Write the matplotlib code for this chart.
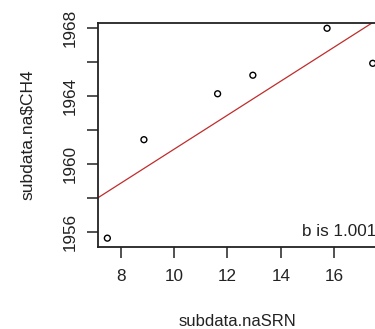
import matplotlib
matplotlib.use('Agg')
import matplotlib.pyplot as plt
import numpy as np

plt.rcParams['font.family'] = ['Liberation Sans', 'DejaVu Sans']

# readings from the reference
rn = [7.50, 8.87, 11.63, 12.95, 15.73, 17.44]
ch4 = [1955.66, 1961.45, 1964.15, 1965.24, 1968.00, 1965.94]
slope = 1.001
intercept = 1950.88
xticks = [8, 10, 12, 14, 16]
yticks = [1956, 1958, 1960, 1962, 1964, 1966, 1968]
ylabels = ['1956', '', '1960', '', '1964', '', '1968']

W, H = 375, 329
fig = plt.figure(figsize=(W / 100, H / 100), dpi=100)
# plot region runs past the right edge (cropped original)
left, right, top, bottom = 98, 381, 23, 247
ax = fig.add_axes([left / W, 1 - bottom / H, (right - left) / W, (bottom - top) / H])

ax.scatter(rn, ch4, s=18, facecolors='none', edgecolors='black', linewidths=1.0, zorder=3)

ax.set_xlim(7.15, 17.75)
ax.set_ylim(1955.14, 1968.31)
xs = np.array(ax.get_xlim())
ax.plot(xs, intercept + slope * xs, color='#c02c2c', linewidth=0.9, zorder=2)

ax.set_xticks(xticks)
ax.set_yticks(yticks)
ax.set_yticklabels(ylabels)
ax.tick_params(axis='both', direction='out', length=8, width=1.1, labelsize=12.3, colors='#222222')
ax.tick_params(axis='x', pad=8)
ax.tick_params(axis='y', pad=6.5, labelrotation=90)
for lab in ax.get_yticklabels():
    lab.set_va('center')

for s in ax.spines.values():
    s.set_linewidth(1.3)
    s.set_color('#222222')

fig.text(376 / W, 1 - 231 / H, 'b is 1.001', ha='right', va='center', fontsize=12.3, color='#222222')
fig.text(237 / W, 1 - 321 / H, 'subdata.naSRN', ha='center', va='center', fontsize=12, color='#222222')
fig.text(27.5 / W, 1 - 135 / H, 'subdata.na\\$CH4', ha='center', va='center', rotation=90,
         fontsize=12.5, color='#222222')

fig.savefig('out.png', dpi=100)
